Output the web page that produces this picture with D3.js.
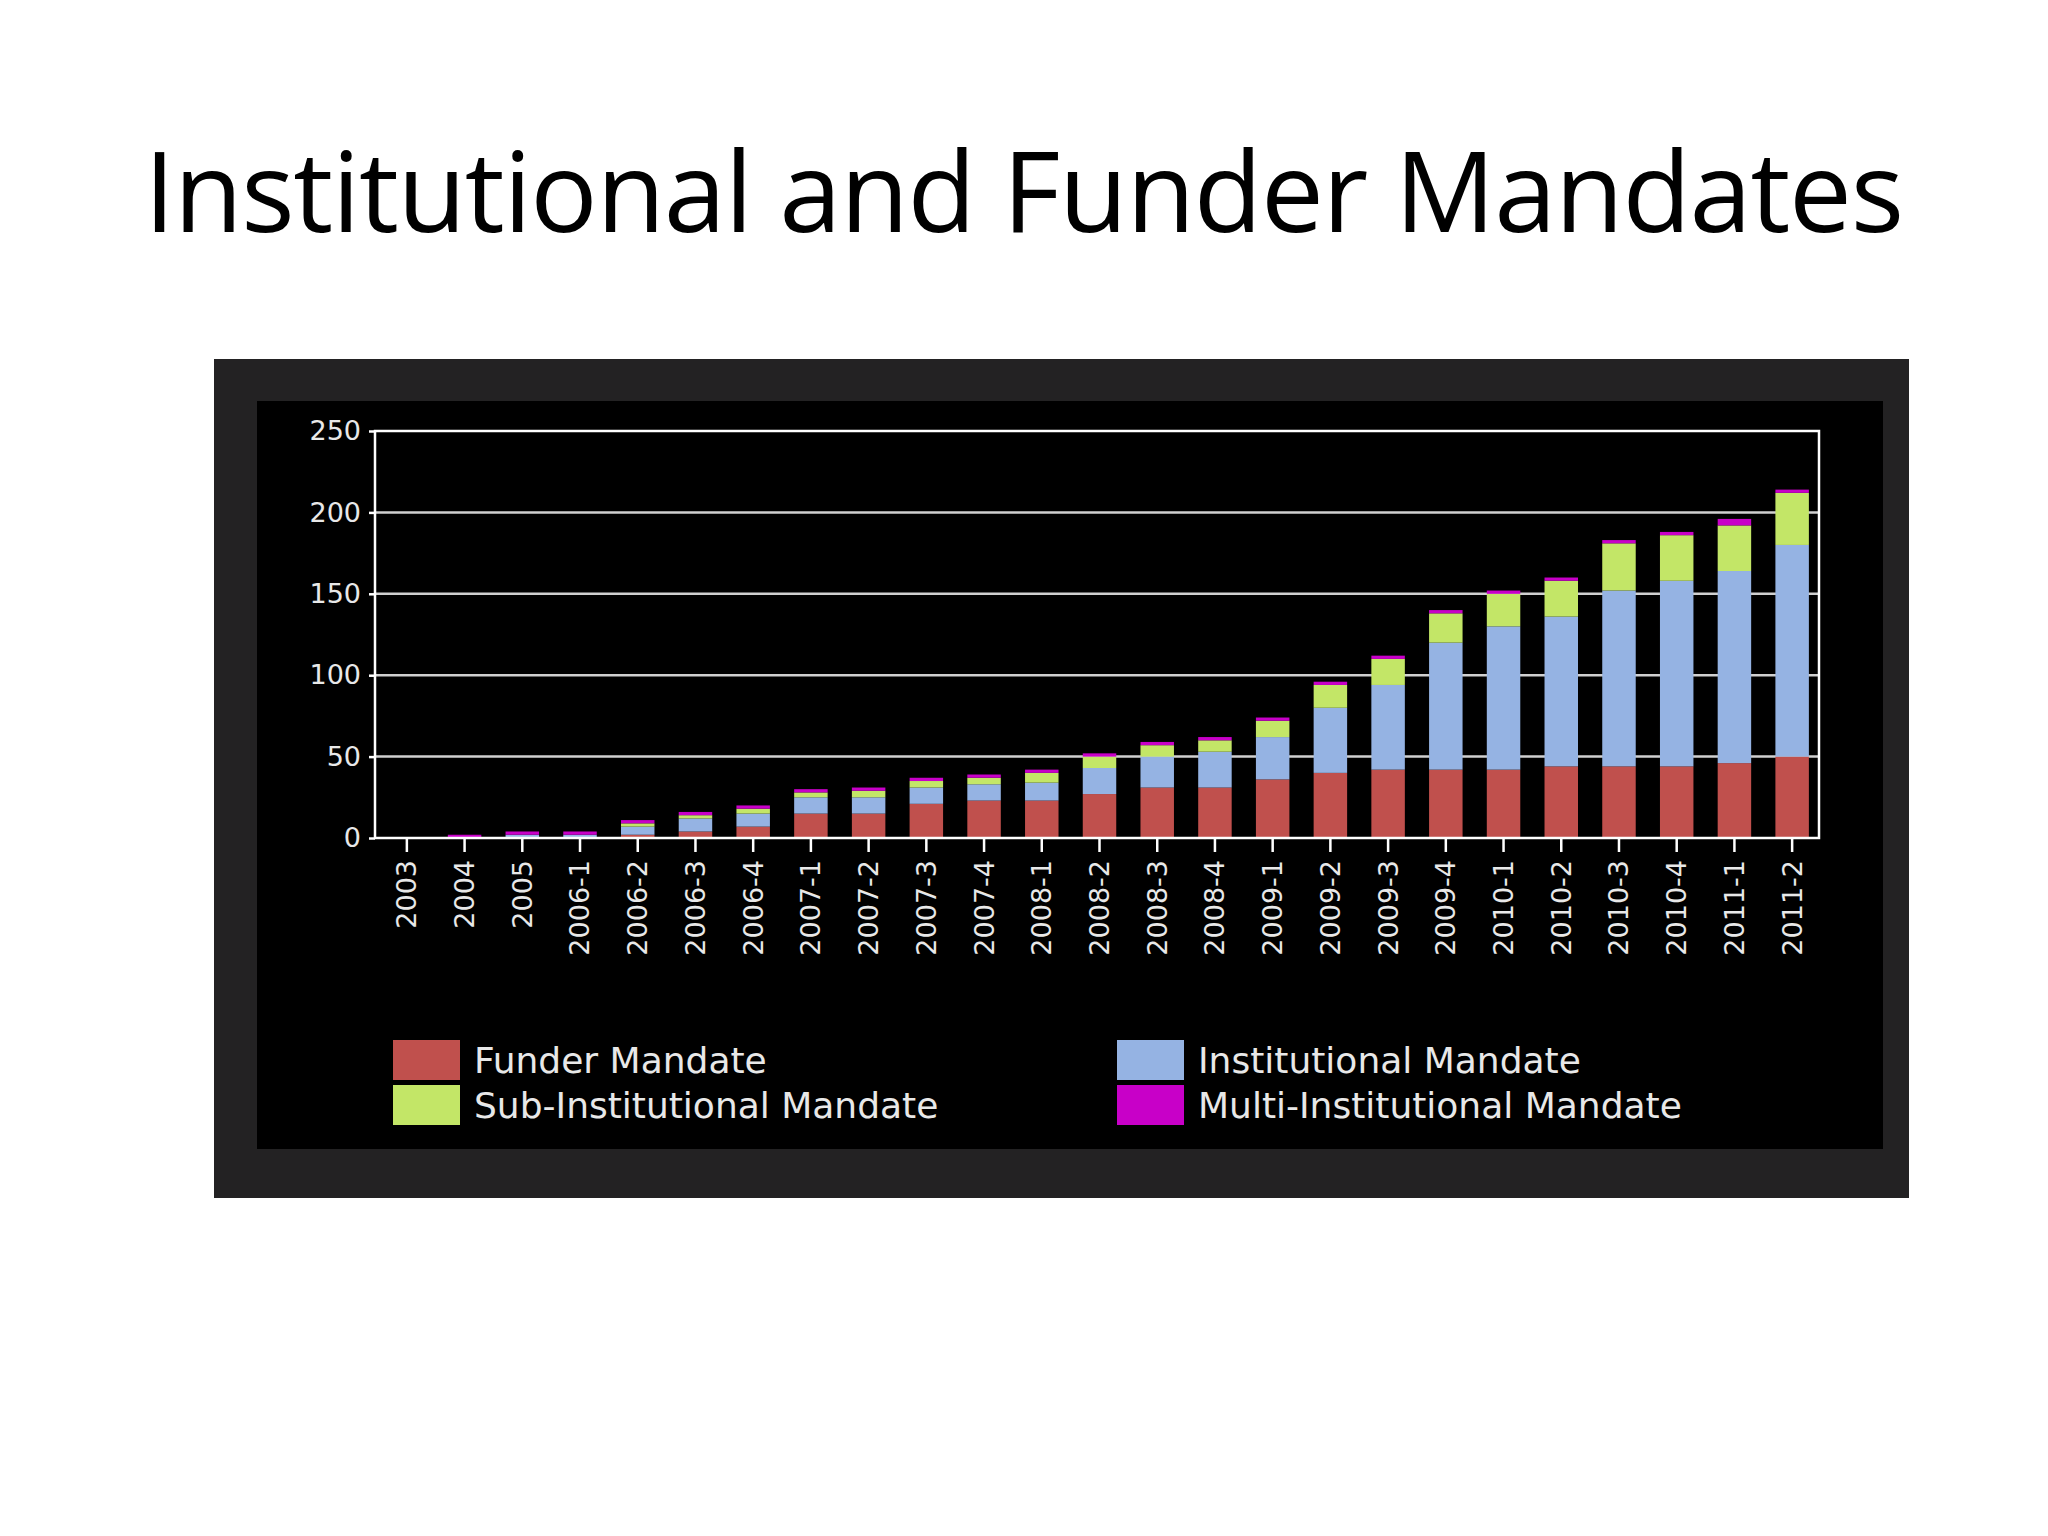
<!DOCTYPE html>
<html>
<head>
<meta charset="utf-8">
<script src="https://cdn.jsdelivr.net/npm/d3@7"></script>
<style>
  body { margin: 0; background: #fff; }
</style>
</head>
<body>
<div id="chart"></div>
<script>
const periods = ['2003','2004','2005','2006-1','2006-2','2006-3','2006-4','2007-1','2007-2','2007-3','2007-4',
  '2008-1','2008-2','2008-3','2008-4','2009-1','2009-2','2009-3','2009-4','2010-1','2010-2','2010-3','2010-4','2011-1','2011-2'];
const funder = [0,0,0,0,2,4,7,15,15,21,23,23,27,31,31,36,40,42,42,42,44,44,44,46,50];
const institutional = [0,0,2,2,5,8,8,10,10,10,10,11,16,19,22,26,40,52,78,88,92,108,114,118,130];
const subInstitutional = [0,0,0,0,2,2,3,3,4,4,4,6,7,7,7,10,14,16,18,20,22,29,28,28,32];
const multiInstitutional = [0,2,2,2,2,2,2,2,2,2,2,2,2,2,2,2,2,2,2,2,2,2,2,4,2];
const seriesNames = ['Funder Mandate','Institutional Mandate','Sub-Institutional Mandate','Multi-Institutional Mandate'];
const seriesColors = ['#c0504d','#95b3e3','#c3e667','#c800c8'];
const yTicks = [0,50,100,150,200,250];

const width = 2048, height = 1536;
const svg = d3.select('#chart').append('svg').attr('width', width).attr('height', height);
const font = '"DejaVu Sans", sans-serif';

svg.append('text').attr('x', 1024).attr('y', 232).attr('text-anchor', 'middle')
  .attr('font-family', '"Open Sans", "Noto Sans", sans-serif').attr('font-size', 112)
  .attr('textLength', 1760).attr('fill', '#000').text('Institutional and Funder Mandates');

svg.append('rect').attr('x', 214).attr('y', 359).attr('width', 1695).attr('height', 839).attr('fill', '#232223');
svg.append('rect').attr('x', 257).attr('y', 401).attr('width', 1626).attr('height', 748).attr('fill', '#000');

const plotLeft = 375, plotRight = 1819, plotTop = 431, plotBottom = 838;
const x = d3.scaleBand().domain(periods).range([378, 1821]).paddingInner(0.42).paddingOuter(0.21);
const y = d3.scaleLinear().domain([0, 250]).range([plotBottom, plotTop]);

const rows = periods.map((p, i) => ({ period: p, s0: funder[i], s1: institutional[i], s2: subInstitutional[i], s3: multiInstitutional[i] }));
const stacked = d3.stack().keys(['s0','s1','s2','s3'])(rows);

// grid
svg.append('g').selectAll('line').data(yTicks.slice(1, -1)).join('line')
  .attr('x1', plotLeft).attr('x2', plotRight).attr('y1', d => y(d)).attr('y2', d => y(d))
  .attr('stroke', '#d0d0d0').attr('stroke-width', 2.5);

svg.append('g').selectAll('g').data(stacked).join('g')
  .attr('fill', (d, i) => seriesColors[i])
  .selectAll('rect').data(d => d).join('rect')
  .attr('x', d => x(d.data.period)).attr('width', x.bandwidth())
  .attr('y', d => y(d[1])).attr('height', d => y(d[0]) - y(d[1]));

// frame
svg.append('rect').attr('x', plotLeft).attr('y', plotTop).attr('width', plotRight - plotLeft).attr('height', plotBottom - plotTop)
  .attr('fill', 'none').attr('stroke', '#fff').attr('stroke-width', 2.5);

const yAxis = svg.append('g').attr('transform', `translate(${plotLeft},0)`)
  .call(d3.axisLeft(y).tickValues(yTicks).tickSize(6).tickPadding(8));
const xAxis = svg.append('g').attr('transform', `translate(0,${plotBottom})`)
  .call(d3.axisBottom(x).tickSize(14).tickPadding(8));
[yAxis, xAxis].forEach(a => {
  a.select('.domain').remove();
  a.selectAll('line').attr('stroke', '#fff').attr('stroke-width', 2.5);
  a.selectAll('text').attr('fill', '#e8e8e8').attr('font-family', font).attr('font-size', 27);
});
xAxis.selectAll('text').attr('transform', 'rotate(-90)').attr('text-anchor', 'end')
  .attr('x', -22).attr('y', 0).attr('dy', '0.35em');

// legend
const legend = svg.append('g').selectAll('g').data(seriesNames).join('g')
  .attr('transform', (d, i) => `translate(${i % 2 ? 1117 : 393},${1040 + Math.floor(i / 2) * 45})`);
legend.append('rect').attr('width', 67).attr('height', 40).attr('fill', (d, i) => seriesColors[i]);
legend.append('text').attr('x', 81).attr('y', 20).attr('dy', '0.35em')
  .attr('fill', '#e8e8e8').attr('font-family', font).attr('font-size', 36).text(d => d);
</script>
</body>
</html>
